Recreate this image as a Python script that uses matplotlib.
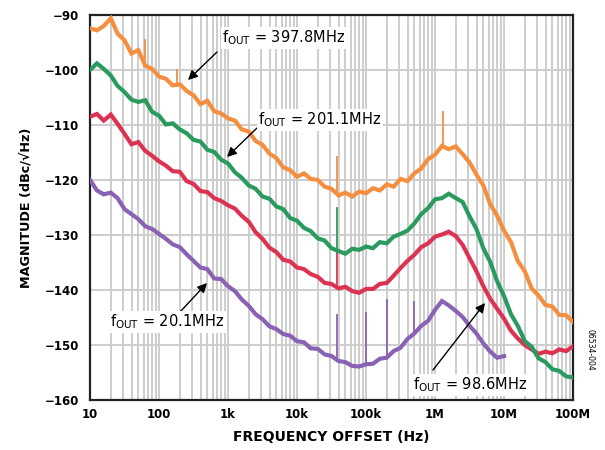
import matplotlib
matplotlib.use("Agg")
import matplotlib.pyplot as plt
from matplotlib.ticker import LogLocator, NullFormatter

plt.rcParams['font.family'] = ['DejaVu Sans']
plt.rcParams['mathtext.fontset'] = 'dejavusans'

# offset frequencies (Hz), 10 points per decade
freq = [10, 12.6, 15.8, 20, 25.1, 31.6, 39.8, 50.1, 63.1, 79.4,
        100, 126, 158, 200, 251, 316, 398, 501, 631, 794,
        1e3, 1.26e3, 1.58e3, 2e3, 2.51e3, 3.16e3, 3.98e3, 5.01e3, 6.31e3, 7.94e3,
        1e4, 1.26e4, 1.58e4, 2e4, 2.51e4, 3.16e4, 3.98e4, 5.01e4, 6.31e4, 7.94e4,
        1e5, 1.26e5, 1.58e5, 2e5, 2.51e5, 3.16e5, 3.98e5, 5.01e5, 6.31e5, 7.94e5,
        1e6, 1.26e6, 1.58e6, 2e6, 2.51e6, 3.16e6, 3.98e6, 5.01e6, 6.31e6, 7.94e6,
        1e7, 1.26e7, 1.58e7, 2e7, 2.51e7, 3.16e7, 3.98e7, 5.01e7, 6.31e7, 7.94e7,
        1e8]

# phase noise readings (dBc/Hz)
pn_397 = [-92.4, -92.8, -92.0, -90.6, -93.4, -94.6, -97.0, -96.4, -99.2, -99.8,
          -101.2, -101.6, -102.8, -102.6, -103.8, -104.6, -106.2, -105.6, -107.5, -107.9,
          -108.8, -109.2, -110.8, -111.2, -112.9, -113.6, -115.2, -116.0, -117.7, -118.2,
          -119.4, -118.8, -119.8, -120.0, -121.2, -121.6, -122.8, -122.3, -123.0, -122.1,
          -122.4, -121.5, -121.9, -120.8, -121.2, -119.8, -120.2, -118.8, -117.9, -116.2,
          -115.4, -113.8, -114.4, -113.9, -115.3, -116.8, -119.0, -121.0, -124.4, -126.5,
          -129.2, -131.3, -134.7, -136.6, -139.7, -141.0, -142.7, -143.0, -144.5, -144.6,
          -145.8]
pn_201 = [-100.0, -98.8, -99.8, -101.0, -102.9, -104.0, -105.4, -105.8, -105.5, -107.6,
          -108.3, -109.9, -109.7, -110.8, -111.5, -112.7, -113.0, -114.5, -114.9, -116.3,
          -117.0, -118.6, -119.6, -121.0, -121.6, -123.0, -123.4, -124.8, -125.3, -126.9,
          -127.4, -128.7, -129.3, -130.6, -131.0, -132.4, -132.9, -133.4, -132.5, -132.7,
          -132.1, -132.4, -131.3, -131.5, -130.3, -129.8, -129.2, -127.9, -126.2, -125.1,
          -123.5, -123.3, -122.5, -123.3, -124.0, -126.6, -128.9, -132.4, -134.9, -138.4,
          -141.1, -144.4, -146.5, -149.3, -150.3, -152.4, -153.1, -154.4, -154.7, -155.7,
          -155.9]
pn_98 = [-108.5, -108.0, -109.2, -108.1, -109.8, -111.6, -113.5, -113.1, -114.7, -115.6,
         -116.6, -117.4, -118.4, -118.5, -120.2, -120.7, -122.0, -122.2, -123.3, -123.8,
         -124.6, -125.2, -126.5, -127.6, -129.5, -130.7, -132.3, -133.1, -134.5, -134.8,
         -135.9, -136.2, -137.1, -137.6, -138.7, -138.9, -139.7, -139.4, -140.2, -140.5,
         -139.8, -139.8, -138.9, -138.7, -137.4, -136.0, -134.7, -133.6, -132.2, -131.5,
         -130.3, -129.9, -129.4, -130.2, -131.8, -134.2, -136.6, -139.3, -141.6, -143.4,
         -145.2, -147.4, -148.8, -150.0, -150.8, -151.6, -151.2, -151.5, -150.8, -151.1,
         -150.2]
pn_20 = [-120.0, -121.9, -122.6, -122.3, -123.3, -125.3, -126.2, -127.1, -128.4, -128.9,
         -129.8, -130.7, -131.7, -132.2, -133.5, -134.7, -135.9, -136.2, -137.9, -138.0,
         -139.3, -140.2, -141.7, -142.9, -144.4, -145.3, -146.6, -147.1, -148.0, -148.3,
         -149.3, -149.5, -150.6, -150.7, -151.7, -152.0, -152.9, -153.1, -153.8, -153.9,
         -153.5, -153.4, -152.5, -152.3, -151.1, -150.5, -148.9, -147.9, -146.5, -145.6,
         -143.6, -142.0, -142.8, -143.8, -144.9, -146.5, -147.9, -149.7, -151.2, -152.3,
         -152.0]

# spurs: (frequency, floor, top)
spurs_397 = [(63, -99.0, -94.5), (180, -103.0, -100.0), (38e3, -122.5, -115.8), (1.3e6, -114.0, -107.6)]
spurs_201 = [(38e3, -133.0, -125.0)]
spurs_98 = [(38e3, -139.5, -132.7)]
spurs_20 = [(38e3, -152.7, -144.5), (1e5, -153.6, -144.2), (2e5, -152.2, -141.8), (5e5, -147.9, -142.2)]

c_orange = '#f58f3f'
c_green = '#2a9a5e'
c_red = '#dc3352'
c_purple = '#8a62b4'

fig = plt.figure(figsize=(6.05, 4.5), dpi=100)
ax = fig.add_axes([0.1488, 0.111, 0.7984, 0.8557])

traces = [(freq[:len(pn_20)], pn_20, spurs_20, c_purple),
          (freq, pn_98, spurs_98, c_red),
          (freq, pn_201, spurs_201, c_green),
          (freq, pn_397, spurs_397, c_orange)]
for f, v, spurs, c in traces:
    ax.plot(f, v, color=c, lw=3.0, solid_joinstyle='miter', zorder=3)
    for sf, lo, hi in spurs:
        ax.plot([sf, sf], [lo, hi], color=c, lw=1.3, zorder=3)

ax.set_xscale('log')
ax.set_xlim(10, 1e8)
ax.set_ylim(-160, -90)

xt = [10, 100, 1e3, 1e4, 1e5, 1e6, 1e7, 1e8]
ax.set_xticks(xt)
ax.set_xticklabels(['10', '100', '1k', '10k', '100k', '1M', '10M', '100M'])
ax.xaxis.set_minor_locator(LogLocator(base=10, subs=range(2, 10), numticks=20))
ax.xaxis.set_minor_formatter(NullFormatter())
yt = list(range(-160, -89, 10))
ax.set_yticks(yt)
ax.set_yticklabels(['\u2212%d' % abs(t) for t in yt])

ax.grid(True, which='both', axis='x', color='#cdcdcd', lw=1.4, zorder=0)
ax.grid(True, which='major', axis='y', color='#cdcdcd', lw=1.4, zorder=0)
ax.tick_params(which='both', length=0)
ax.tick_params(axis='x', pad=6)
ax.tick_params(axis='y', pad=8)
for lab in ax.get_xticklabels() + ax.get_yticklabels():
    lab.set_fontweight('bold')
    lab.set_fontsize(8.5)
for s in ax.spines.values():
    s.set_linewidth(1.6)
    s.set_color('#222222')

ax.set_xlabel('FREQUENCY OFFSET (Hz)', fontsize=10, fontweight='bold', labelpad=6)
ax.set_ylabel('MAGNITUDE (dBc/\u221aHz)', fontsize=9.2, fontweight='bold', labelpad=8)

box = dict(fc='white', ec='none', pad=1.0)
arrow = dict(arrowstyle='-|>', color='black', lw=1.0, mutation_scale=14, shrinkA=0, shrinkB=0)
notes = [(r'f$_{\rm OUT}$ = 397.8MHz', (188, 80), (217, 52), (222, 38)),
         (r'f$_{\rm OUT}$ = 201.1MHz', (227, 157), (257, 128), (258, 120)),
         (r'f$_{\rm OUT}$ = 20.1MHz', (207, 283), (180, 312), (110, 322)),
         (r'f$_{\rm OUT}$ = 98.6MHz', (485, 303), (433, 370), (413, 385))]
for txt, head, tail, tpos in notes:
    hx, hy = head
    ttx, tty = tail
    ax.annotate('', xy=(hx / 605, 1 - hy / 450), xycoords='figure fraction',
                xytext=(ttx / 605, 1 - tty / 450), textcoords='figure fraction',
                arrowprops=arrow, zorder=5)
    fig.text(tpos[0] / 605, 1 - tpos[1] / 450, txt, fontsize=10.5, ha='left', va='center',
             bbox=box, zorder=6)

fig.text(590 / 605, 1 - 350 / 450, '06534-004', fontsize=5.5, rotation=-90,
         ha='center', va='center')

fig.savefig('out.png', dpi=100)
